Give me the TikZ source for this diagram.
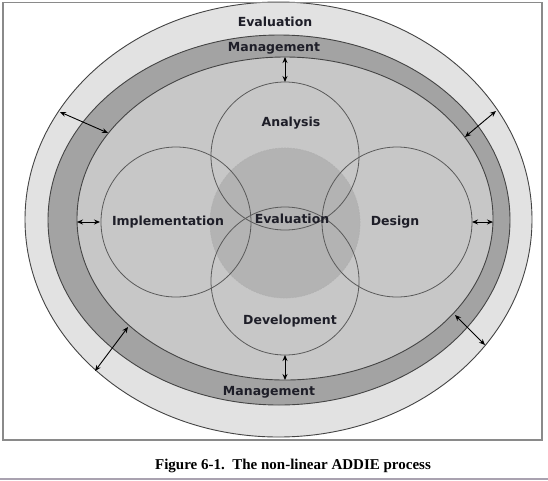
\documentclass[tikz,border=0pt]{standalone}
\usepackage{fontspec}
\setmainfont{DejaVu Sans}
\newfontfamily\capfont{Liberation Serif}
\usetikzlibrary{arrows.meta}
\definecolor{ringout}{HTML}{E2E2E2}
\definecolor{ringmid}{HTML}{A3A3A3}
\definecolor{ringin}{HTML}{C7C7C7}
\definecolor{core}{HTML}{B3B3B3}
\definecolor{edge}{HTML}{444444}
\definecolor{circ}{HTML}{5A5A5A}
\definecolor{txt}{HTML}{1E1E28}
\definecolor{frame}{HTML}{8A8A8A}
\definecolor{bar}{HTML}{A9A2B0}
\tikzset{
  lbl/.style={font=\fontsize{12.5}{14}\selectfont\bfseries, text=txt, inner sep=0pt},
  phase/.style={circle, draw=circ, line width=0.8pt, inner sep=0pt},
  dbl/.style={{Stealth[length=6pt,width=5pt]}-{Stealth[length=6pt,width=5pt]}, line width=0.9pt, black},
}
\begin{document}
\begin{tikzpicture}[x=1pt,y=-1pt]
\useasboundingbox (0,0) rectangle (548,480);
\fill[white] (0,0) rectangle (548,480);
% rings
\draw[edge, fill=ringout, line width=0.9pt] (278.5,219.5) ellipse [x radius=253.5, y radius=217.5];
\draw[edge, fill=ringmid, line width=0.9pt] (279,220) ellipse [x radius=231, y radius=185];
\draw[edge, fill=ringin, line width=0.9pt] (285,218.5) ellipse [x radius=208, y radius=161.5];
% core
\node[circle, minimum size=150pt, inner sep=0pt, fill=core, draw=black!30, dashed, dash pattern=on 2pt off 1pt, line width=0.7pt] (core) at (285,223) {};
% phase circles
\node[phase, minimum size=148pt] (ana) at (285,156) {};
\node[phase, minimum size=150pt] (imp) at (176,222) {};
\node[phase, minimum size=150pt] (des) at (397,222) {};
\node[phase, minimum size=148pt] (dev) at (285,281) {};
% frame
\draw[frame, line width=1.5pt] (3,2.5) rectangle (542,440);
% labels
\node[lbl] (evalout) at (275,22) {Evaluation};
\node[lbl] (mgtop) at (274,48) {Management};
\node[lbl] (mgbot) at (269,392) {Management};
\node[lbl] (analbl) at (291,123) {Analysis};
\node[lbl] (implbl) at (168,222) {Implementation};
\node[lbl] (deslbl) at (395,222) {Design};
\node[lbl] (devlbl) at (290,321) {Development};
\node[lbl] (evalin) at (292,219) {Evaluation};
% arrow end points
\coordinate (t1) at (285,57);   \coordinate (t2) at (285,82);
\coordinate (b1) at (285,355);  \coordinate (b2) at (285,380);
\coordinate (l1) at (77,222);   \coordinate (l2) at (100,222);
\coordinate (r1) at (472,222);  \coordinate (r2) at (493,222);
\coordinate (ul1) at (60,112);  \coordinate (ul2) at (108,133);
\coordinate (ur1) at (496,111); \coordinate (ur2) at (465,137);
\coordinate (ll1) at (128,327); \coordinate (ll2) at (95,371);
\coordinate (lr1) at (455,315); \coordinate (lr2) at (485,345);
\draw[dbl] (t1) -- (t2);
\draw[dbl] (b1) -- (b2);
\draw[dbl] (l1) -- (l2);
\draw[dbl] (r1) -- (r2);
\draw[dbl] (ul1) -- (ul2);
\draw[dbl] (ur1) -- (ur2);
\draw[dbl] (ll1) -- (ll2);
\draw[dbl] (lr1) -- (lr2);
% caption
\node[font=\capfont\fontsize{15}{17}\selectfont\bfseries, inner sep=0pt] (cap) at (293,466) {Figure 6-1.\ \ The non-linear ADDIE process};
\draw[bar, line width=1.5pt] (0,479) -- (548,479);
\end{tikzpicture}
\end{document}
